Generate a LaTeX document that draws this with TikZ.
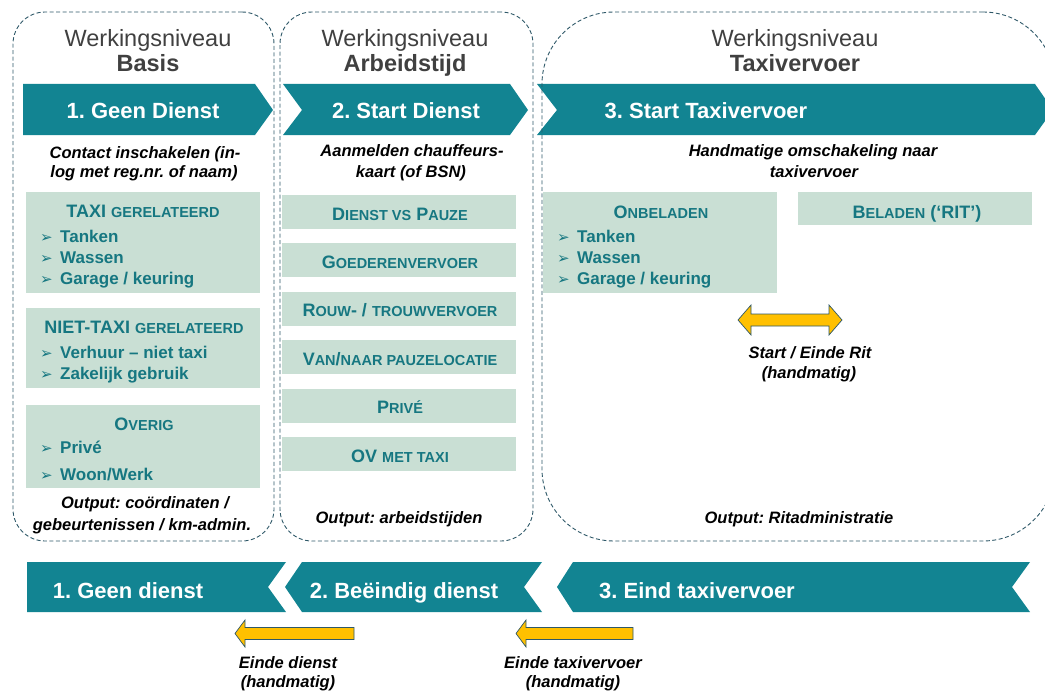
\documentclass[tikz,border=0pt]{standalone}
\usepackage{fontspec}
\setmainfont{Liberation Sans}
\newfontfamily\symb{DejaVu Sans}
\usepackage{tikz}
\frenchspacing

\definecolor{sarcelle}{RGB}{18,132,146}
\definecolor{texte}{RGB}{22,119,129}
\definecolor{vertclair}{RGB}{201,223,212}
\definecolor{tiret}{RGB}{46,88,104}
\definecolor{gristitre}{RGB}{64,64,64}
\definecolor{jaune}{RGB}{255,192,0}

\newcommand{\kl}[1]{{\fontsize{14.5}{17}\selectfont #1}}
\newcommand{\puce}{\makebox[20pt][l]{\symb\fontsize{15}{17}\selectfont ➢}}

\begin{document}
\begin{tikzpicture}[x=1pt, y=-1pt, >=stealth,
  panneau/.style={draw=tiret, line width=0.9pt, dash pattern=on 4pt off 2.5pt, rounded corners=#1, inner sep=0pt},
  boite/.style={fill=vertclair, inner sep=0pt, minimum width=234},
  titre/.style={anchor=base, inner sep=0pt, text=gristitre, font=\fontsize{23.5}{28}\selectfont},
  etape/.style={anchor=base, inner sep=0pt, text=white, font=\bfseries\fontsize{22}{26}\selectfont},
  note/.style={anchor=base, inner sep=0pt, font=\bfseries\itshape\fontsize{16.5}{20}\selectfont},
  entete/.style={anchor=base, inner sep=0pt, text=texte, font=\bfseries\fontsize{18}{21}\selectfont},
  item/.style={anchor=base west, inner sep=0pt, text=texte, font=\bfseries\fontsize{17}{20}\selectfont},
  fleche/.style={fill=jaune, draw=tiret, line width=0.7pt, line join=miter}]

\useasboundingbox (0,0) rectangle (1045,693);
\clip (0,0) rectangle (1045,693);

% Les titres des niveaux
\foreach \x/\nom [count=\i] in {148/Basis, 405/Arbeidstijd, 795/Taxivervoer} {
\node[titre] (W\i) at (\x,47) {Werkingsniveau};
\node[titre, font=\bfseries\fontsize{23.5}{28}\selectfont] (N\i) at (\x,72) {\nom};
}

% Les chevrons du haut
\foreach \g/\d/\n in {23/255/0, 283/510/19, 537/1035/20}
\fill[sarcelle] (\g,84) -- (\d,84) -- (\d+18,110) -- (\d,135) -- (\g,135) -- (\g+\n,110) -- cycle;
\node[etape] (S1) at (143,118) {1. Geen Dienst};
\node[etape] (S2) at (406,118) {2. Start Dienst};
\node[etape] (S3) at (706,118) {3. Start Taxivervoer};

% Les chevrons du bas
\foreach \g/\d/\n in {27/286/0, 302/542/17, 573/1030/16}
\fill[sarcelle] (\g,562) -- (\d,562) -- (\d-18,587) -- (\d,612) -- (\g,612) -- (\g-\n,587) -- cycle;
\node[etape] (E1) at (128,598) {1. Geen dienst};
\node[etape] (E2) at (404,598) {2. Beëindig dienst};
\node[etape] (E3) at (697,598) {3. Eind taxivervoer};

% Les consignes
\node[note] (c1a) at (145,158) {Contact inschakelen (in-};
\node[note] (c1b) at (144,177) {log met reg.nr. of naam)};
\node[note] (c2a) at (412,157) {Aanmelden chauffeurs-};
\node[note] (c2b) at (411,177) {kaart (of BSN)};
\node[note] (c3a) at (813,157) {Handmatige omschakeling naar};
\node[note] (c3b) at (814,177) {taxivervoer};

% Les boîtes du niveau Basis
\node[boite, minimum height=101] (BA) at (143,242.5) {};
\node[boite, minimum height=80] (BB) at (143,348) {};
\node[boite, minimum height=83] (BC) at (143,446.5) {};
\node[entete] (hA) at (143,217) {TAXI \kl{GERELATEERD}};
\node[entete] (hB) at (144,333) {NIET-TAXI \kl{GERELATEERD}};
\node[entete] (hC) at (144,430) {O\kl{VERIG}};
\foreach \t [count=\k] in {Tanken, Wassen, Garage / keuring}
\node[item] (iA\k) at (40,221+21*\k) {\puce\t};
\node[item] (iB1) at (40,358) {\puce Verhuur -- niet taxi};
\node[item] (iB2) at (40,379) {\puce Zakelijk gebruik};
\node[item] (iC1) at (40,453) {\puce Privé};
\node[item] (iC2) at (40,480) {\puce Woon/Werk};

% Les boîtes du niveau Arbeidstijd
\foreach \t [count=\k] in {D\kl{IENST VS} P\kl{AUZE}, G\kl{OEDERENVERVOER}, R\kl{OUW}- / \kl{TROUWVERVOER},
  V\kl{AN}/\kl{NAAR PAUZELOCATIE}, P\kl{RIVÉ}, OV \kl{MET TAXI}} {
\node[boite, minimum height=34] (A\k) at (399,163.6+48.4*\k) {};
\node[entete] (hA\k) at (400,171.6+48.4*\k) {\t};
}

% Les boîtes du niveau Taxivervoer
\node[boite, minimum height=101] (ON) at (660,242.5) {};
\node[boite, minimum height=33] (BE) at (915,208.5) {};
\node[entete] (hON) at (661,218) {O\kl{NBELADEN}};
\node[entete] (hBE) at (917,218) {B\kl{ELADEN} (‘RIT’)};
\foreach \t [count=\k] in {Tanken, Wassen, Garage / keuring}
\node[item] (iO\k) at (557,221+21*\k) {\puce\t};

% Les flèches jaunes
\draw[fleche] (738,320) -- (751,305) -- (751,314) -- (829,314) -- (829,305) -- (842,320)
  -- (829,335) -- (829,326) -- (751,326) -- (751,335) -- cycle;
\foreach \p/\q in {235/354, 516/633}
\draw[fleche] (\p,633.5) -- (\p+10,620) -- (\p+10,627.5) -- (\q,627.5) -- (\q,639.5)
  -- (\p+10,639.5) -- (\p+10,647) -- cycle;
\node[note] (r1) at (810,358) {Start / Einde Rit};
\node[note] (r2) at (809,378) {(handmatig)};
\node[note] (d1) at (288,668) {Einde dienst};
\node[note] (d2) at (288,687) {(handmatig)};
\node[note] (t1) at (573,668) {Einde taxivervoer};
\node[note] (t2) at (573,687) {(handmatig)};

% Les sorties
\node[note] (o1a) at (145,508) {Output: coördinaten /};
\node[note] (o1b) at (142,530) {gebeurtenissen / km-admin.};
\node[note] (o2) at (399,523) {Output: arbeidstijden};
\node[note] (o3) at (799,523) {Output: Ritadministratie};

% Les cadres en tirets
\node[panneau=32, minimum width=261, minimum height=529] (P1) at (143.5,276.5) {};
\node[panneau=32, minimum width=253, minimum height=529] (P2) at (406.5,276.5) {};
\node[panneau=72, minimum width=513, minimum height=529] (P3) at (798.5,276.5) {};

\end{tikzpicture}
\end{document}
